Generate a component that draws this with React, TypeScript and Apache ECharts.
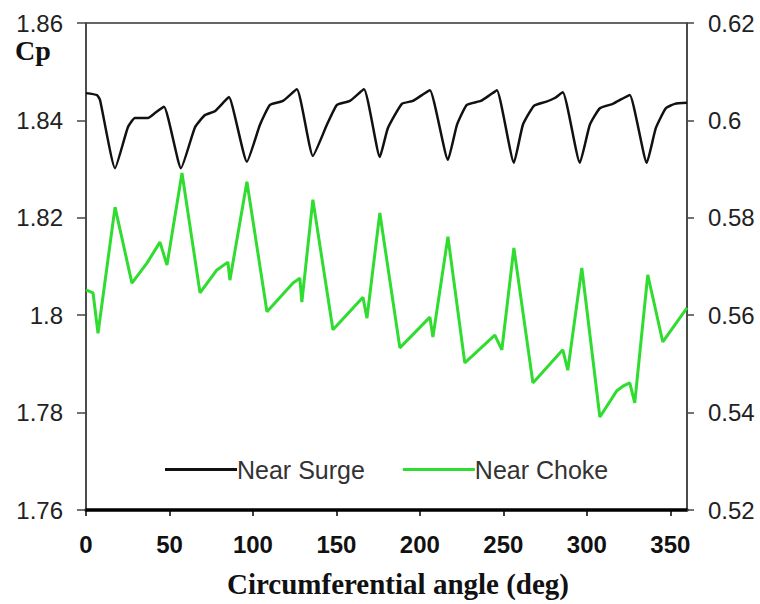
import React, { useEffect, useRef } from "react";
import * as echarts from "echarts";

// Near Surge (left axis, Cp)
const surgeAngle = [0, 6.6, 8.4, 17.4, 25.1, 29.3, 37.1, 41.3, 46.7, 56.9, 65.3, 71.3, 77.2, 83.2, 85.6, 96.4, 104.2, 110.2, 118.0, 126.3, 135.9, 144.3, 150.3, 158.1, 166.5, 176.0, 180.8, 189.2, 195.8, 201.2, 206.0, 216.8, 222.2, 228.1, 236.5, 241.9, 246.1, 256.3, 261.7, 268.3, 275.4, 280.8, 285.6, 295.8, 301.8, 307.8, 315.6, 321.0, 325.7, 335.9, 341.3, 347.3, 352.7, 360];
const surgeCp = [1.8456, 1.8452, 1.8442, 1.8302, 1.8386, 1.8405, 1.8405, 1.8415, 1.8428, 1.8302, 1.8386, 1.8411, 1.8419, 1.844, 1.8448, 1.8315, 1.8391, 1.8432, 1.844, 1.8464, 1.8327, 1.8391, 1.8432, 1.844, 1.8464, 1.8325, 1.8384, 1.8434, 1.844, 1.8452, 1.8462, 1.8319, 1.8391, 1.8432, 1.844, 1.8452, 1.8462, 1.8313, 1.8391, 1.843, 1.8438, 1.8446, 1.8458, 1.8313, 1.8391, 1.8425, 1.8434, 1.8444, 1.8452, 1.8313, 1.8384, 1.8425, 1.8434, 1.8436];

// Near Choke (right axis, Cp)
const chokeAngle = [0, 4.2, 7.2, 17.4, 27.5, 36.5, 44.3, 48.5, 57.5, 68.3, 78.4, 85.0, 86.2, 96.4, 108.4, 124.0, 128.1, 129.3, 135.9, 147.9, 165.9, 168.3, 176.0, 188.0, 206.0, 207.8, 216.8, 226.9, 244.9, 249.1, 256.3, 267.7, 285.6, 288.6, 297.0, 307.8, 318.0, 322.0, 325.7, 328.7, 336.5, 345.5, 360];
const chokeCp = [0.5652, 0.5646, 0.5563, 0.5822, 0.5666, 0.5707, 0.575, 0.5703, 0.5892, 0.5646, 0.5693, 0.5709, 0.5672, 0.5874, 0.5607, 0.5666, 0.5676, 0.5627, 0.5837, 0.557, 0.5637, 0.5594, 0.581, 0.5533, 0.5596, 0.5555, 0.5761, 0.5502, 0.5559, 0.5529, 0.5738, 0.5461, 0.5529, 0.5487, 0.5697, 0.5391, 0.5445, 0.5455, 0.5461, 0.542, 0.5683, 0.5545, 0.5615];

const xTicks = [0, 50, 100, 150, 200, 250, 300, 350];

export default function App() {
  const ref = useRef<HTMLDivElement>(null);
  useEffect(() => {
    if (!ref.current) return;
    const chart = echarts.init(ref.current, null, { renderer: "svg" });
    chart.setOption({
      animation: false,
      backgroundColor: "#fff",
      grid: { left: 86, right: 73, top: 23, bottom: 94, show: true, borderColor: "#333", borderWidth: 1.5, backgroundColor: "transparent" },
      legend: {
        left: 160,
        top: 452,
        icon: "rect",
        itemWidth: 72,
        itemHeight: 3,
        itemGap: 38,
        textStyle: { fontFamily: "Liberation Sans", fontSize: 25, color: "#333", padding: [0, 0, 0, -5] },
        data: ["Near Surge", "Near Choke"],
      },
      xAxis: {
        type: "value",
        min: 0,
        max: 360,
        axisLine: { show: true, onZero: false, lineStyle: { color: "#000", width: 3.5 } },
        axisTick: { show: true, length: 6, customValues: xTicks, lineStyle: { color: "#000", width: 1.5 } },
        splitLine: { show: false },
        axisLabel: {
          margin: 22,
          fontFamily: "Liberation Sans",
          fontWeight: "bold",
          fontSize: 24,
          color: "#111",
          customValues: xTicks,
        },
      },
      yAxis: [
        {
          type: "value",
          min: 1.76,
          max: 1.86,
          interval: 0.02,
          position: "left",
          axisLine: { show: true, lineStyle: { color: "#444", width: 1.5 } },
          axisTick: { show: true, length: 9, lineStyle: { color: "#444", width: 1.5 } },
          splitLine: { show: false },
          axisLabel: { margin: 23, fontFamily: "Liberation Sans", fontSize: 24, color: "#222" },
        },
        {
          type: "value",
          min: 0.52,
          max: 0.62,
          interval: 0.02,
          position: "right",
          axisLine: { show: true, lineStyle: { color: "#444", width: 1.5 } },
          axisTick: { show: true, length: 7, lineStyle: { color: "#444", width: 1.5 } },
          splitLine: { show: false },
          axisLabel: { margin: 21, fontFamily: "Liberation Sans", fontSize: 24, color: "#222" },
        },
      ],
      graphic: [
        {
          type: "text",
          left: 15,
          top: 36,
          style: { text: "Cp", fontFamily: "Liberation Serif", fontWeight: "bold", fontSize: 28, fill: "#111" },
        },
        {
          type: "text",
          x: 398,
          y: 584,
          style: {
            text: "Circumferential angle (deg)",
            fontFamily: "Liberation Serif",
            fontWeight: "bold",
            fontSize: 29,
            fill: "#111",
            align: "center",
            verticalAlign: "middle",
          },
        },
      ],
      series: [
        {
          name: "Near Surge",
          type: "line",
          yAxisIndex: 0,
          symbol: "none",
          smooth: 0.15,
          color: "#111",
          lineStyle: { color: "#111", width: 2.5 },
          data: surgeAngle.map((a, i) => [a, surgeCp[i]]),
        },
        {
          name: "Near Choke",
          type: "line",
          yAxisIndex: 1,
          symbol: "none",
          color: "#2fdc2f",
          lineStyle: { color: "#2fdc2f", width: 3 },
          data: chokeAngle.map((a, i) => [a, chokeCp[i]]),
        },
      ],
    });
    return () => chart.dispose();
  }, []);
  return <div ref={ref} style={{ position: "fixed", left: 0, top: 0, width: 760, height: 604 }} />;
}
